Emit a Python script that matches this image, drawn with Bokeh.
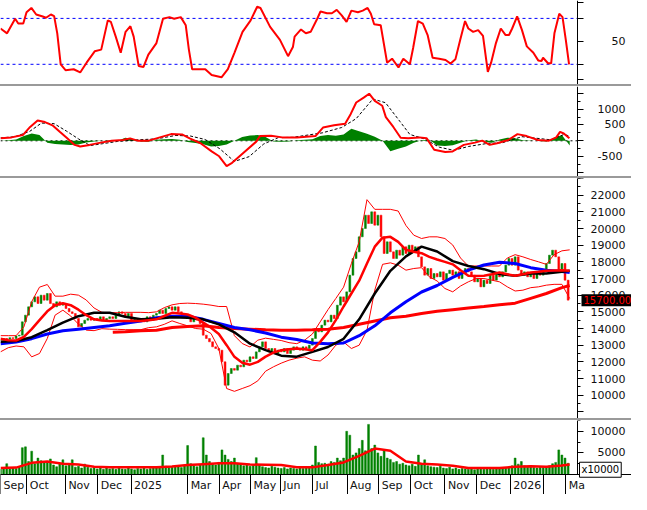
from bokeh.plotting import figure
from bokeh.layouts import column
from bokeh.models import Label, FixedTicker, Range1d, Div, ColumnDataSource, LinearAxis
from bokeh.embed import file_html
from bokeh.resources import INLINE

# ---------------- data (x = trading-day index) ----------------
month_pos = [0, 16.9, 41.6, 62.4, 83.7, 120, 140.3, 160.3, 179.4, 200, 222.2,
             242.5, 263.1, 285, 305.4, 326.9, 348.1, 362.5]
month_lab = ["Sep", "Oct", "Nov", "Dec", "2025", "Mar", "Apr", "May", "Jun", "Jul",
             "Aug", "Sep", "Oct", "Nov", "Dec", "2026", "", "Ma"]

close_day = list(range(0, 366, 2))
close = [13300, 13400, 13350, 13450, 13400, 13550, 13600, 14400, 14800, 15300,
         15600, 15900, 15500, 16000, 15700, 16100, 15500, 15300, 15600, 15400,
         15500, 15200, 15000, 14900, 14600, 14100, 14300, 14500, 14600, 14500,
         14600, 14500, 14700, 14500, 14600, 14700, 14600, 14800, 15000, 14900,
         14700, 14900, 14400, 14600, 14500, 14600, 14400, 14700, 14500, 14800,
         14900, 15100, 14900, 15200, 15300, 15100, 15300, 15000, 14900, 14700,
         14600, 14400, 14600, 14500, 14300, 13600, 13400, 13200, 12900, 12800,
         12700, 12000, 10600, 11300, 11600, 11500, 11800, 11700, 12100, 12000,
         12300, 12200, 12600, 12900, 13200, 12800, 12600, 12800, 12500, 12700,
         12600, 12800, 12500, 12700, 12900, 12800, 12700, 12900, 12800, 13000,
         13400, 14000, 13800, 14200, 14500, 14400, 14800, 14600, 15400, 15900,
         15600, 16200, 17200, 18200, 18600, 19500, 20000, 20800, 20300, 21000,
         20200, 20800, 19500, 18500, 19200, 18600, 18200, 18700, 18400, 18900,
         18500, 19000, 18600, 18900, 18300, 17700, 17200, 17600, 17000, 17300,
         17100, 17400, 16900, 17300, 17500, 17200, 17400, 17000, 17300, 17600,
         17400, 17200, 16800, 17000, 16500, 16900, 16700, 17200, 16900, 17300,
         17100, 17400, 17800, 18200, 17800, 18300, 17500, 17200, 17400, 17100,
         17300, 17000, 17400, 17200, 17500, 17900, 18400, 18700, 18300, 17500,
         17900, 16900, 15700]
volume = [1200, 1500, 2500, 1300, 1600, 1400, 1800, 6200, 6400, 3000,
          5400, 2500, 3800, 3200, 3000, 2800, 3600, 2200, 1800, 2500,
          3400, 2000, 2200, 3400, 1700, 1900, 1500, 2400, 1700, 1400,
          1600, 1300, 1500, 1200, 1700, 1300, 1400, 1200, 1600, 1300,
          1200, 1500, 1300, 1100, 1400, 1300, 1500, 1200, 1400, 1600,
          1500, 1800, 4500, 1900, 1600, 1700, 2000, 1800, 1600, 2200,
          6700, 2500, 2000, 1800, 2200, 8500, 4500, 3000, 2400, 2200,
          2800, 5700, 4500, 3500, 3000, 3800, 2600, 2400, 2000, 2200,
          1900, 2100, 3900, 2200, 1800, 1600, 1500, 1900, 1700, 1500,
          1400, 1600, 1300, 1500, 1400, 1300, 1500, 1400, 1600, 1800,
          2200, 6600, 2800, 2500, 2600, 2400, 3000, 2800, 3800, 3200,
          3800, 10000, 9100, 4500, 5000, 6000, 7900, 5500, 11600, 6000,
          6800, 5000, 4200, 5500, 3800, 3500, 2800, 3000, 2400, 2600,
          2200, 2000, 2400, 1900, 4500, 2300, 3400, 2000, 1800, 1700,
          1600, 1900, 1500, 1400, 1700, 1300, 1500, 1200, 1400, 1300,
          1200, 1400, 1100, 1300, 1500, 1200, 1300, 1400, 1200, 1500,
          1400, 1300, 1600, 1800, 2000, 3800, 2400, 3000, 2000, 1700,
          1800, 1600, 1500, 1700, 1600, 1800, 2000, 2500, 2800, 5700,
          4500, 3800, 2600]

band_day = list(range(0, 361, 5)) + [365]
bb_upper = [13570, 13570, 13570, 14100, 15610, 16480, 16640, 15940, 15940, 16060,
            16000, 15710, 15230, 14970, 14940, 14950, 14970, 14970, 14970, 14950,
            15000, 15250, 15420, 15500, 15520, 15500, 15460, 15400, 15320, 15320,
            13570, 13100, 12890, 13300, 13420, 13350, 13280, 13150, 13090, 13300,
            13670, 14400, 15130, 15800, 16480, 17900, 19200, 21730, 21150, 21150,
            21150, 21050, 20180, 19600, 19400, 19500, 19500, 19400, 19010, 18230,
            17750, 17750, 17750, 17750, 17750, 18230, 18430, 18300, 18140, 18000,
            17850, 18430, 18660, 18720]
bb_mid = [13380, 13300, 13280, 13500, 13960, 14500, 15030, 15400, 15520, 15400,
          15130, 14800, 14550, 14480, 14450, 14450, 14450, 14450, 14450, 14500,
          14550, 14750, 14940, 14900, 14840, 14650, 14350, 14050, 13670, 13000,
          12300, 11950, 11830, 12000, 12310, 12550, 12700, 12750, 12800, 12750,
          12700, 13200, 13770, 14500, 15320, 16100, 16870, 17900, 18910, 19450,
          19500, 19200, 18720, 18600, 18520, 18300, 18140, 18000, 17850, 17500,
          17170, 17150, 17170, 17250, 17360, 17250, 17170, 17250, 17360, 17400,
          17460, 17480, 17500, 17460]
bb_lower = [12600, 12850, 12950, 12900, 12300, 12500, 13400, 14800, 15100, 14750,
            14260, 13900, 13870, 13990, 13960, 13950, 13930, 13930, 13930, 14050,
            14100, 14250, 14460, 14300, 14160, 14000, 13960, 13700, 12800, 10400,
            10230, 10400, 10570, 10860, 11440, 11700, 11920, 12100, 12220, 12300,
            12100, 12050, 12410, 13000, 13190, 12800, 13000, 13900, 16300, 17850,
            17940, 17800, 17500, 17600, 17650, 17100, 16850, 16400, 16200, 16550,
            16800, 17000, 17000, 16900, 16800, 16500, 16250, 16300, 16450, 16500,
            16600, 16650, 16650, 15800]

ma_day = list(range(0, 361, 10)) + [365]
ma_black = [13200, 13250, 13480, 13900, 14350, 14740, 14940, 14940, 14700, 14550,
            14590, 14680, 14640, 14550, 14250, 13770, 13090, 12700, 12370, 12310,
            12600, 12890, 13380, 14550, 16100, 17460, 18330, 18910, 18620, 18040,
            17750, 17560, 17270, 17170, 17300, 17300, 17400, 17460]
ma_blue = [13090, 13190, 13390, 13670, 13860, 13960, 14060, 14160, 14310, 14450,
           14640, 14740, 14740, 14550, 14310, 14060, 13920, 13730, 13480, 13340,
           13130, 13090, 13130, 13570, 14160, 14940, 15610, 16190, 16580, 17070,
           17500, 17810, 17980, 17900, 17650, 17500, 17420, 17360]
long_day = [72] + list(range(80, 361, 10)) + [365]
ma_long = [13770, 13800, 13860, 13900, 14060, 14120, 14160, 14060, 14000, 13960,
           13920, 13900, 13900, 13920, 13960, 14060, 14250, 14450, 14640, 14740,
           14900, 15030, 15130, 15230, 15320, 15420, 15520, 15810, 16100, 16450,
           16580]
vol_ma = [1500, 1600, 2700, 3000, 2500, 2300, 1800, 1700, 1650, 1650,
          1700, 1850, 2200, 2400, 2600, 2600, 2300, 2250, 2200, 1700,
          1650, 2200, 2800, 4300, 6000, 5500, 3000, 2500, 2300, 2000,
          1500, 1500, 1500, 1800, 1900, 1800, 2100, 2300]

rsi_day = [0, 4.2, 9.4, 11.4, 14.6, 16.7, 19.8, 22.9, 27.1, 29.2, 32.3, 34.4, 36.4,
           38.6, 41.7, 46.9, 51.1, 55.2, 60.4, 64.6, 68.8, 70.8, 73.9, 77.1, 80.2,
           83.3, 85.4, 88.6, 91.7, 94.8, 100, 104.2, 108.3, 111.4, 115.6, 118.8,
           120.8, 122.9, 127.1, 131.3, 135.4, 141.7, 145.8, 150, 155.2, 160.4,
           164.6, 166.7, 172.9, 179.2, 184.4, 187.5, 188.6, 192.7, 195.8, 198.9,
           203.1, 205.2, 209.4, 212.5, 215.6, 218.8, 221.9, 225, 229.2, 232.3,
           235.4, 237.5, 239.6, 243.8, 247.9, 251.1, 255.2, 258.3, 262.5, 264.6,
           267.7, 270.8, 273.9, 277.1, 281.3, 285.4, 288.6, 291.7, 294.8, 297.9,
           300, 303.1, 306.3, 309.4, 312.5, 314.6, 317.7, 320.8, 323.9, 326.1,
           328.1, 331.3, 334.4, 337.5, 341.7, 344.8, 346.9, 347.9, 351.1, 353.1,
           355.2, 358.3, 360.4, 362.5, 364.6]
rsi = [61.2, 57.0, 69.7, 65.5, 65.5, 75.4, 79.1, 73.4, 71.7, 70.6, 73.4, 72.0, 57.0,
       30.0, 24.9, 25.7, 22.9, 31.4, 41.3, 42.8, 68.3, 66.9, 54.1, 40.0, 58.3,
       63.2, 54.1, 28.6, 27.7, 38.5, 48.5, 69.7, 71.1, 69.7, 71.1, 64.0,
       42.8, 25.7, 25.7, 25.7, 20.6, 18.7, 25.7, 40.0, 58.3, 68.3,
       80.2, 79.1, 62.6, 51.3, 37.1, 45.0, 54.1, 60.4, 57.0, 58.3,
       69.7, 76.0, 74.5, 74.5, 77.4, 72.6, 66.9, 76.8, 75.4, 76.8,
       79.1, 74.0, 64.9, 64.0, 31.4, 34.9, 27.2, 34.9, 30.0, 44.2,
       67.7, 65.5, 55.5, 35.7, 34.9, 33.7, 30.6, 34.3, 51.3, 67.7,
       61.2, 58.3, 59.8, 54.7, 23.4, 31.4, 48.5, 61.2, 55.5, 55.5,
       61.2, 71.7, 59.8, 45.6, 40.0, 33.4, 32.8, 35.7, 30.9, 30.9,
       57.0, 74.0, 71.1, 51.3, 30.0]
rsi_levels = [70, 30]

macd_day = [0, 7.1, 14.3, 19, 23.8, 28.5, 33.3, 38, 42.8, 47.5, 51.1, 57.1, 64.2,
            71.3, 78.4, 83.1, 87.9, 95, 102.2, 109.4, 116.4, 121.3, 128.3, 135.4,
            140.2, 145, 148.5, 154.4, 164, 166.4, 173.5, 180.6, 190.1, 202, 206.8,
            213.9, 221, 224.6, 228.1, 232.9, 236.4, 240, 244.8, 247.1, 251.9, 256.6,
            261.4, 268.6, 273.3, 278.1, 285.2, 289.9, 297.1, 304.2, 308.9, 313.7,
            318.4, 325.6, 331.5, 337.4, 344.6, 351.7, 356.4, 358.8, 361.2, 364.8]
macd = [77, 108, 180, 437, 643, 591, 488, 283, 77, -129, -180, -129, -57,
        5, 26, 77, 5, 5, 108, 211, 201, 77, -77, -334,
        -488, -797, -694, -437, -26, 149, 159, 108, 108, 149, 417,
        488, 540, 849, 1208, 1363, 1486, 1260, 1105, 746, 437, 98,
        77, 108, 77, -283, -355, -334, -129, -57, 5, -129,
        -77, 26, 211, 149, 26, 5, 108, 283, 231, 77]
signal_day = [0, 9.4, 18.8, 26.3, 34.4, 42.5, 50, 57.5, 65.6, 75, 87.5, 100, 112.5,
              121.9, 131.3, 140.6, 150, 159.4, 168.8, 178.1, 187.5, 206.3, 218.8,
              228.1, 238.8, 246.9, 256.3, 262.5, 271.9, 281.3, 290.6, 300, 312.5,
              321.9, 334.4, 343.8, 353.1, 361.3, 365]
signal = [90, 130, 300, 560, 540, 300, 60, -150, -90, -20, 30, 60, 170,
          150, 40, -250, -650, -500, -100, 100, 110, 250, 420,
          700, 1320, 1200, 600, 200, 60, -200, -300, -180, -80,
          -60, 130, 80, 30, 200, 150]
hist = [0, 20, 40, 150, 230, 180, -60, -100, -120, -130,
        -120, -50, -20, 0, 20, -10, 100, 60, -20, -30,
        30, 50, 60, 30, -40, -70, -110, -180, -160, -120,
        0, 120, 170, 180, 120, -20, -30, -20, 20, 30,
        50, 150, 180, 160, 200, 380, 300, 220, 130, 0,
        -330, -250, -180, -60, 20, 30, -150, -160, -140, -60,
        20, 40, -20, -60, 40, 100, 80, 20, 10, -10,
        -20, 100, 180, -150]

last_price = 15700

# ---------------- styling ----------------
W = 631            # whole width (frame spans it)
DATA_W = 577       # width of the data area, the value axes sit at its right
X_END = 370        # day index at the data area's right edge
PPD = DATA_W / X_END
FONT = "DejaVu Sans"
FS = "\u2007"
RED, GREEN, BLUE, BLACK = "#ff0000", "#008000", "#0000ff", "#000000"
xr = Range1d(0, W / PPD)
day_span = [0, X_END]

# DejaVu Sans advance widths (em) used to left-align month labels in their cells
ADV = {"S": .635, "e": .615, "p": .635, "O": .787, "c": .55, "t": .392, "N": .748,
       "o": .612, "v": .592, "D": .77, "M": .863, "a": .613, "r": .411, "A": .684,
       "y": .592, "J": .295, "u": .634, "n": .634, "l": .278, "g": .635}


def text_w(s, size=11):
    return sum(ADV.get(ch, .636) for ch in s) * size


def style_axis(ax):
    ax.major_label_text_font = FONT
    ax.major_label_text_font_size = "11px"
    ax.major_label_text_color = "#111111"
    ax.axis_line_color = BLACK
    ax.major_tick_line_color = BLACK
    ax.minor_tick_line_color = BLACK


def panel(fh, y0, y1, ticks, labels, minor=(), bounds="auto"):
    p = figure(frame_width=W, frame_height=fh, x_range=xr, y_range=Range1d(y0, y1),
               output_backend="svg", toolbar_location=None,
               x_axis_location=None, y_axis_location="right",
               min_border_left=0, min_border_right=0, min_border_top=0,
               min_border_bottom=0, margin=0)
    p.grid.visible = False
    p.outline_line_color = None
    p.background_fill_color = "white"
    p.border_fill_color = "white"
    ax = p.yaxis[0]
    style_axis(ax)
    ax.fixed_location = X_END
    ax.bounds = bounds
    ax.ticker = FixedTicker(ticks=list(ticks), minor_ticks=list(minor))
    ax.major_label_overrides = {t: l for t, l in zip(ticks, labels)}
    ax.major_tick_in = 0
    ax.major_tick_out = 6
    ax.minor_tick_in = 0
    ax.minor_tick_out = 3
    ax.major_label_standoff = 7
    return p


# RSI
p1 = panel(84, 12.4, 85.6, [17, 30, 50, 70, 84], ["", "", FS * 3 + "50", "", ""])
for lvl in rsi_levels:
    p1.line(day_span, [lvl, lvl], line_color=BLUE, line_dash="3 3", line_width=1)
p1.line(rsi_day, rsi, line_color=RED, line_width=2)

# MACD
p2 = panel(90, -1126, 1713, [-1000, -500, 0, 500, 1000, 1500],
           ["", FS + "-500", FS * 4 + "0", FS * 2 + "500", FS + "1000", ""],
           minor=[-1250, -750, -250, 250, 750, 1250])
p2.line(day_span, [0, 0], line_color=BLACK, line_dash="2 3", line_width=1)
p2.varea(x=band_day, y1=[0] * len(hist), y2=hist, fill_color=GREEN)
p2.line(signal_day, signal, line_color=BLACK, line_width=1, line_dash="3 2")
p2.line(macd_day, macd, line_color=RED, line_width=2)

# Price
pt = list(range(9000, 23001, 1000))
pl = ["" if (v < 10000 or v > 22000) else str(v) for v in pt]
p3 = panel(240, 8600, 23000, pt, pl, minor=list(range(8500, 23001, 500)))
opens = [close[0]] + close[:-1]
src = ColumnDataSource(dict(
    x=close_day,
    top=[max(o, c) for o, c in zip(opens, close)],
    bottom=[min(o, c) for o, c in zip(opens, close)],
    color=[GREEN if c >= o else RED for o, c in zip(opens, close)],
))
p3.vbar(x="x", top="top", bottom="bottom", width=1.2, source=src,
        fill_color="color", line_color="color", line_width=0.5)
p3.line(band_day, bb_upper, line_color=RED, line_width=1)
p3.line(band_day, bb_lower, line_color=RED, line_width=1)
p3.line(long_day, ma_long, line_color=RED, line_width=3)
p3.line(ma_day, ma_blue, line_color=BLUE, line_width=3)
p3.line(ma_day, ma_black, line_color=BLACK, line_width=2.5)
p3.line(band_day, bb_mid, line_color=RED, line_width=2.5)
p3.add_layout(Label(x=DATA_W + 4, x_units="screen", y=last_price, y_units="data",
                    text=f"{last_price:.2f}", text_color=RED, text_font=FONT,
                    text_font_size="10px", text_baseline="middle",
                    background_fill_color=BLACK, padding=2))

# Volume (frame also holds the 20px month row below the zero line)
VOL_TOP = 12500
VOL_H, ROW_H = 54, 20
p4 = panel(VOL_H + ROW_H, -VOL_TOP * ROW_H / VOL_H, VOL_TOP, [0, 5000, 10000],
           ["", FS + "5000", "10000"], minor=[2500, 7500, 12500], bounds=(0, VOL_TOP))
p4.vbar(x=close_day, top=volume, bottom=0, width=1.2, fill_color=GREEN,
        line_color=GREEN, line_width=0.5)
p4.line(ma_day, vol_ma, line_color=RED, line_width=2.5)
p4.add_layout(Label(x=DATA_W + 2, x_units="screen", y=1100, y_units="data",
                    text="x10000", text_color=BLACK, text_font=FONT,
                    text_font_size="10px", text_baseline="middle",
                    border_line_color=BLACK, background_fill_color="white",
                    padding=2))

# month row: one axis draws the cell separators, one the labels (left in each cell)
sep_axis = LinearAxis(fixed_location=0, ticker=FixedTicker(ticks=month_pos, minor_ticks=[]),
                      major_label_overrides={t: "" for t in month_pos})
style_axis(sep_axis)
sep_axis.major_tick_in = 0
sep_axis.major_tick_out = ROW_H
sep_axis.minor_tick_out = 0
p4.add_layout(sep_axis, "below")

lab_pos = [m + (3 + text_w(l) / 2) / PPD for m, l in zip(month_pos, month_lab)]
lab_axis = LinearAxis(fixed_location=0, ticker=FixedTicker(ticks=lab_pos, minor_ticks=[]),
                      major_label_overrides={t: l for t, l in zip(lab_pos, month_lab)})
style_axis(lab_axis)
lab_axis.major_tick_line_color = None
lab_axis.major_tick_in = 0
lab_axis.major_tick_out = 0
lab_axis.minor_tick_out = 0
lab_axis.major_label_standoff = 4
p4.add_layout(lab_axis, "below")


def sep():
    return Div(width=W, height=2, margin=0,
               styles={"background-color": "#9a9a9a", "overflow": "hidden"})


layout = column(p1, sep(), p2, sep(), p3, sep(), p4, spacing=0)
open("out.html", "w").write(file_html(layout, INLINE))
